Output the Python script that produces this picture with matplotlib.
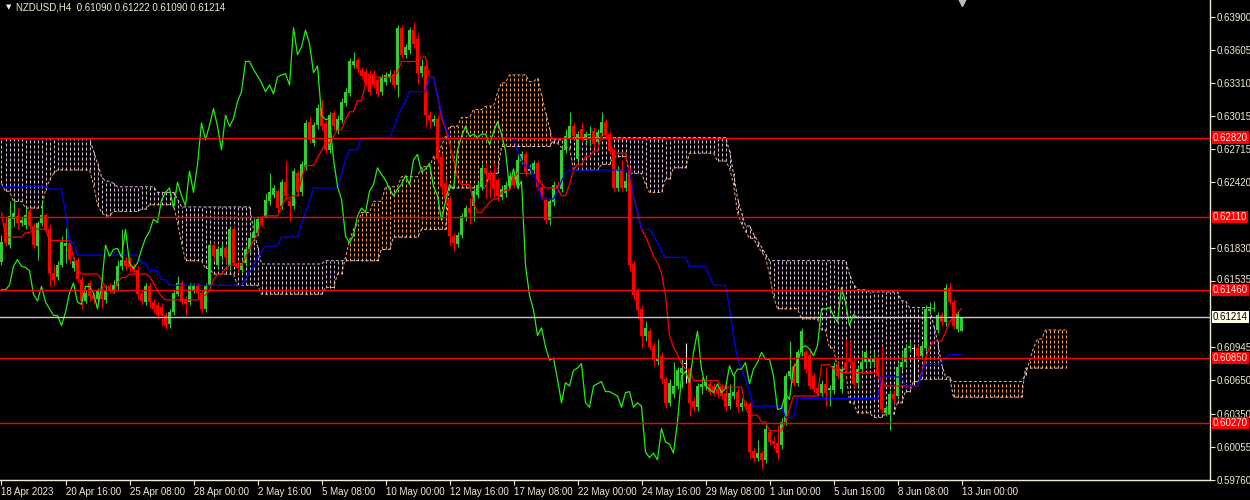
import numpy as np
import matplotlib
matplotlib.use("Agg")
import matplotlib.pyplot as plt
import matplotlib.transforms as mtransforms

plt.rcParams["font.family"] = ["Liberation Sans", "DejaVu Sans"]

# ---- H4 candles, 18 Apr 00:00 .. 13 Jun 00:00 (241 bars) ----
opens = [
    .6171, .6206, .6186, .6209, .6212, .6206, .6204, .6216, .6203, .6185,
    .6206, .6213, .6200, .6161, .6157, .6168, .6185, .6188, .6165, .6173,
    .6155, .6136, .6152, .6141, .6138, .6146, .6137, .6149, .6146, .6149,
    .6167, .6173, .6172, .6167, .6164, .6143, .6135, .6149, .6135, .6132,
    .6131, .6123, .6115, .6126, .6142, .6152, .6138, .6135, .6146, .6149,
    .6143, .6129, .6149, .6186, .6168, .6176, .6183, .6167, .6200, .6170,
    .6164, .6170, .6182, .6192, .6197, .6210, .6212, .6225, .6231, .6234,
    .6221, .6242, .6225, .6221, .6250, .6233, .6256, .6296, .6277, .6293,
    .6308, .6295, .6271, .6304, .6288, .6298, .6313, .6322, .6347, .6351,
    .6342, .6341, .6339, .6339, .6333, .6323, .6332, .6335, .6339, .6329,
    .6380, .6356, .6360, .6378, .6370, .6340, .6346, .6302, .6296, .6299,
    .6265, .6241, .6227, .6194, .6187, .6195, .6210, .6219, .6221, .6231,
    .6238, .6255, .6250, .6250, .6244, .6229, .6232, .6239, .6248, .6240,
    .6261, .6267, .6252, .6253, .6259, .6238, .6226, .6208, .6224, .6240,
    .6236, .6271, .6282, .6292, .6263, .6290, .6280, .6284, .6288, .6278,
    .6286, .6296, .6285, .6270, .6237, .6254, .6237, .6253, .6169, .6145,
    .6129, .6105, .6109, .6096, .6082, .6087, .6066, .6045, .6053, .6060,
    .6072, .6080, .6074, .6047, .6041, .6059, .6060, .6062, .6060, .6057,
    .6059, .6054, .6042, .6051, .6055, .6041, .6044, .6044, .6002, .5996,
    .6000, .5994, .6019, .6011, .6009, .6007, .6028, .6069, .6078, .6063,
    .6090, .6090, .6088, .6069, .6058, .6054, .6062, .6056, .6056, .6078,
    .6057, .6081, .6085, .6081, .6063, .6075, .6081, .6081, .6081, .6084,
    .6066, .6036, .6035, .6053, .6051, .6077, .6081, .6094, .6093, .6094,
    .6087, .6094, .6127, .6129, .6110, .6123, .6117, .6148, .6135, .6111, .6109,
]
closes = [
    .6189, .6188, .6212, .6215, .6206, .6208, .6213, .6203, .6186, .6206,
    .6213, .6200, .6161, .6155, .6168, .6189, .6188, .6173, .6172, .6156,
    .6136, .6143, .6140, .6138, .6145, .6138, .6146, .6146, .6150, .6167,
    .6173, .6167, .6166, .6163, .6142, .6136, .6149, .6135, .6129, .6123,
    .6123, .6114, .6126, .6143, .6152, .6135, .6133, .6149, .6149, .6143,
    .6129, .6149, .6186, .6176, .6182, .6183, .6175, .6200, .6170, .6165,
    .6170, .6182, .6192, .6198, .6209, .6206, .6226, .6233, .6237, .6219,
    .6242, .6230, .6221, .6252, .6233, .6258, .6295, .6280, .6293, .6308,
    .6292, .6271, .6302, .6292, .6299, .6314, .6323, .6350, .6350, .6343,
    .6337, .6331, .6323, .6329, .6321, .6336, .6338, .6339, .6329, .6380,
    .6356, .6363, .6378, .6366, .6340, .6346, .6302, .6298, .6299, .6263,
    .6238, .6227, .6194, .6188, .6195, .6212, .6219, .6215, .6234, .6240,
    .6255, .6249, .6244, .6236, .6230, .6236, .6240, .6248, .6240, .6262,
    .6267, .6251, .6254, .6259, .6238, .6230, .6208, .6225, .6240, .6236,
    .6271, .6283, .6292, .6283, .6285, .6282, .6285, .6285, .6276, .6287,
    .6296, .6285, .6270, .6237, .6254, .6237, .6243, .6168, .6141, .6128,
    .6105, .6112, .6095, .6083, .6085, .6066, .6045, .6063, .6060, .6074,
    .6076, .6080, .6045, .6041, .6060, .6062, .6064, .6055, .6055, .6053,
    .6051, .6041, .6054, .6055, .6041, .6045, .6042, .6001, .5996, .6000,
    .5994, .6022, .6010, .6008, .6000, .6028, .6069, .6073, .6063, .6090,
    .6109, .6075, .6060, .6057, .6054, .6062, .6054, .6058, .6078, .6069,
    .6075, .6075, .6081, .6062, .6075, .6081, .6090, .6084, .6084, .6069,
    .6039, .6040, .6053, .6048, .6077, .6081, .6094, .6096, .6093, .6087,
    .6096, .6129, .6129, .6130, .6123, .6117, .6148, .6135, .6114, .6124, .6121,
]
highs = [
    .6195, .6212, .6225, .6225, .6219, .6212, .6219, .6219, .6206, .6207,
    .6225, .6215, .6205, .6168, .6172, .6194, .6201, .6190, .6175, .6175,
    .6158, .6146, .6155, .6143, .6148, .6150, .6150, .6152, .6155, .6173,
    .6200, .6176, .6175, .6170, .6167, .6146, .6152, .6152, .6138, .6135,
    .6134, .6126, .6129, .6146, .6158, .6155, .6140, .6152, .6152, .6152,
    .6146, .6152, .6189, .6189, .6185, .6188, .6186, .6203, .6203, .6173,
    .6173, .6185, .6195, .6210, .6212, .6213, .6232, .6250, .6240, .6236,
    .6245, .6261, .6228, .6255, .6253, .6261, .6298, .6300, .6296, .6312,
    .6316, .6298, .6305, .6307, .6302, .6317, .6326, .6353, .6358, .6354,
    .6345, .6344, .6342, .6342, .6336, .6339, .6341, .6342, .6342, .6383,
    .6383, .6366, .6381, .6385, .6375, .6352, .6349, .6306, .6302, .6302,
    .6268, .6244, .6230, .6197, .6198, .6215, .6222, .6228, .6237, .6243,
    .6258, .6258, .6253, .6259, .6247, .6240, .6243, .6251, .6251, .6268,
    .6270, .6270, .6258, .6262, .6262, .6241, .6229, .6228, .6243, .6243,
    .6274, .6290, .6305, .6295, .6288, .6296, .6288, .6292, .6291, .6290,
    .6305, .6299, .6288, .6273, .6257, .6262, .6251, .6256, .6172, .6148,
    .6132, .6118, .6112, .6099, .6102, .6090, .6069, .6066, .6081, .6077,
    .6084, .6098, .6077, .6050, .6063, .6068, .6070, .6065, .6063, .6060,
    .6062, .6065, .6062, .6070, .6058, .6049, .6047, .6046, .6005, .6012,
    .6003, .6025, .6022, .6015, .6025, .6031, .6072, .6100, .6081, .6093,
    .6112, .6093, .6091, .6072, .6061, .6065, .6077, .6061, .6081, .6081,
    .6078, .6102, .6100, .6084, .6078, .6090, .6093, .6087, .6090, .6087,
    .6096, .6043, .6056, .6056, .6080, .6090, .6097, .6100, .6096, .6097,
    .6099, .6132, .6135, .6136, .6126, .6126, .6151, .6152, .6138, .6127, .6122,
]
lows = [
    .6168, .6185, .6183, .6203, .6200, .6203, .6200, .6200, .6183, .6173,
    .6203, .6197, .6149, .6149, .6155, .6166, .6170, .6170, .6163, .6152,
    .6129, .6134, .6136, .6133, .6135, .6130, .6134, .6143, .6143, .6146,
    .6164, .6164, .6162, .6160, .6138, .6132, .6132, .6130, .6125, .6120,
    .6114, .6111, .6112, .6123, .6140, .6132, .6123, .6132, .6143, .6138,
    .6125, .6126, .6146, .6173, .6165, .6173, .6170, .6164, .6167, .6162,
    .6161, .6167, .6179, .6190, .6194, .6203, .6210, .6222, .6228, .6215,
    .6218, .6226, .6207, .6218, .6230, .6230, .6253, .6277, .6274, .6290,
    .6289, .6268, .6268, .6289, .6285, .6295, .6310, .6319, .6344, .6340,
    .6334, .6328, .6320, .6326, .6318, .6320, .6329, .6332, .6326, .6318,
    .6353, .6353, .6357, .6362, .6330, .6336, .6292, .6290, .6292, .6258,
    .6232, .6222, .6185, .6181, .6184, .6192, .6207, .6205, .6207, .6228,
    .6235, .6228, .6228, .6228, .6225, .6226, .6229, .6236, .6237, .6236,
    .6258, .6248, .6249, .6250, .6235, .6227, .6205, .6204, .6221, .6233,
    .6233, .6268, .6279, .6280, .6260, .6279, .6277, .6274, .6273, .6275,
    .6283, .6282, .6267, .6234, .6234, .6234, .6234, .6163, .6137, .6120,
    .6094, .6100, .6092, .6078, .6079, .6062, .6040, .6042, .6049, .6057,
    .6058, .6063, .6033, .6038, .6038, .6053, .6056, .6052, .6051, .6049,
    .6048, .6038, .6039, .6048, .6037, .6038, .6039, .5996, .5992, .5993,
    .5986, .5991, .6007, .6004, .5995, .6004, .6025, .6066, .6060, .6060,
    .6087, .6072, .6057, .6054, .6051, .6051, .6042, .6042, .6053, .6066,
    .6054, .6072, .6078, .6059, .6060, .6072, .6078, .6078, .6078, .6066,
    .6036, .6033, .6021, .6045, .6048, .6074, .6078, .6090, .6060, .6084,
    .6084, .6091, .6124, .6127, .6107, .6114, .6114, .6132, .6111, .6108, .6109,
]

# ---- Ichimoku lines, as (value, number of bars) runs ----
tenkan_runs = [
    (.6215, 1), (.6193, 5), (.6197, 2), (.6200, 4), (.6190, 6), (.6175, 1), (.6165, 1),
    (.6160, 5), (.6155, 1), (.6148, 2), (.6143, 1), (.6152, 1), (.6157, 2), (.6160, 5),
    (.6158, 1), (.6152, 1), (.6145, 1), (.6140, 1), (.6137, 9), (.6140, 1), (.6141, 1),
    (.6145, 1), (.6155, 1), (.6160, 2), (.6165, 1), (.6168, 4), (.6175, 1), (.6182, 1),
    (.6190, 1), (.6195, 1), (.6209, 1), (.6212, 4), (.6220, 1), (.6228, 2), (.6230, 2),
    (.6245, 1), (.6257, 3), (.6264, 1), (.6270, 1), (.6277, 2), (.6283, 1), (.6289, 2),
    (.6298, 1), (.6305, 2), (.6315, 2), (.6330, 1), (.6336, 7), (.6340, 1), (.6350, 5),
    (.6354, 2), (.6336, 2), (.6320, 1), (.6300, 1), (.6290, 1), (.6277, 1), (.6262, 1),
    (.6246, 1), (.6240, 3), (.6224, 1), (.6215, 2), (.6220, 1), (.6224, 1), (.6227, 2),
    (.6233, 1), (.6235, 2), (.6245, 1), (.6250, 6), (.6240, 1), (.6237, 4), (.6230, 2),
    (.6240, 1), (.6253, 1), (.6258, 2), (.6265, 2), (.6270, 2), (.6285, 2), (.6280, 1),
    (.6268, 4), (.6250, 1), (.6230, 1), (.6215, 1), (.6200, 1), (.6194, 1), (.6185, 1),
    (.6176, 1), (.6170, 1), (.6161, 1), (.6141, 1), (.6105, 1), (.6095, 1), (.6088, 1),
    (.6080, 1), (.6075, 2), (.6065, 7), (.6059, 6), (.6040, 1), (.6034, 3), (.6028, 2),
    (.6020, 4), (.6028, 1), (.6040, 1), (.6051, 7), (.6079, 3), (.6075, 2), (.6072, 10),
    (.6066, 1), (.6060, 9), (.6072, 1), (.6084, 1), (.6095, 1), (.6100, 3), (.6108, 1),
    (.6117, 1), (.6122, 1), (.6126, 1), (.6129, 1),
]
kijun_runs = [
    (.6238, 12), (.6236, 4), (.6215, 1), (.6188, 2), (.6177, 16), (.6170, 2), (.6163, 3),
    (.6155, 2), (.6150, 19), (.6155, 1), (.6162, 1), (.6166, 1), (.6175, 1), (.6180, 1),
    (.6185, 4), (.6193, 5), (.6205, 1), (.6215, 1), (.6225, 1), (.6237, 7), (.6250, 1),
    (.6262, 1), (.6271, 3), (.6282, 8), (.6290, 1), (.6300, 1), (.6308, 1), (.6315, 1),
    (.6323, 5), (.6336, 2), (.6318, 1), (.6305, 1), (.6292, 1), (.6282, 17), (.6270, 1),
    (.6262, 1), (.6256, 2), (.6248, 1), (.6242, 1), (.6227, 4), (.6235, 1), (.6243, 1),
    (.6250, 1), (.6253, 16), (.6230, 1), (.6215, 1), (.6200, 3), (.6195, 1), (.6188, 1),
    (.6180, 1), (.6175, 6), (.6167, 5), (.6158, 1), (.6150, 4), (.6130, 1), (.6105, 1),
    (.6084, 1), (.6075, 1), (.6066, 1), (.6055, 1), (.6042, 8), (.6032, 3), (.6049, 21),
    (.6068, 6), (.6060, 4), (.6070, 1), (.6080, 5), (.6085, 1), (.6088, 4),
]
# senkou spans run 26 bars past the last candle (267 bars)
span_a_runs = [
    (.6241, 1), (.6234, 2), (.6225, 3), (.6219, 5), (.6235, 1), (.6244, 1), (.6250, 1),
    (.6253, 9), (.6240, 1), (.6222, 1), (.6215, 1), (.6212, 2), (.6216, 7), (.6218, 2),
    (.6222, 7), (.6206, 1), (.6188, 1), (.6172, 5), (.6165, 2), (.6160, 6), (.6150, 6),
    (.6142, 16), (.6148, 3), (.6160, 2), (.6175, 1), (.6190, 1), (.6200, 1), (.6205, 1),
    (.6215, 3), (.6225, 3), (.6238, 4), (.6247, 5), (.6256, 3), (.6265, 2), (.6275, 1),
    (.6283, 1), (.6292, 3), (.6300, 3), (.6307, 3), (.6310, 3), (.6322, 1), (.6331, 2),
    (.6338, 5), (.6332, 2), (.6335, 1), (.6320, 1), (.6305, 1), (.6290, 1), (.6277, 2),
    (.6273, 3), (.6253, 7), (.6258, 3), (.6265, 4), (.6250, 4), (.6240, 1), (.6233, 4),
    (.6245, 2), (.6255, 4), (.6268, 7), (.6261, 3), (.6255, 1), (.6240, 1), (.6215, 1),
    (.6205, 1), (.6198, 1), (.6192, 2), (.6185, 1), (.6180, 1), (.6175, 1), (.6160, 1),
    (.6140, 1), (.6129, 6), (.6120, 5), (.6110, 2), (.6094, 2), (.6075, 3), (.6045, 2),
    (.6036, 4), (.6032, 3), (.6035, 3), (.6045, 2), (.6055, 2), (.6064, 2), (.6066, 6),
    (.6066, 2), (.6064, 18), (.6070, 1), (.6082, 1), (.6094, 1), (.6102, 2), (.6110, 6),
]
span_b_runs = [
    (.6281, 23), (.6270, 1), (.6259, 1), (.6247, 1), (.6243, 2), (.6241, 1), (.6238, 10),
    (.6233, 5), (.6227, 1), (.6220, 18), (.6200, 1), (.6185, 1), (.6169, 16), (.6172, 14),
    (.6182, 3), (.6193, 7), (.6200, 7), (.6237, 10), (.6250, 3), (.6274, 13), (.6280, 3),
    (.6282, 41), (.6270, 1), (.6250, 1), (.6228, 1), (.6215, 1), (.6203, 2), (.6196, 1),
    (.6190, 1), (.6184, 1), (.6178, 1), (.6172, 20), (.6160, 1), (.6151, 1), (.6146, 3),
    (.6144, 8), (.6136, 2), (.6130, 6), (.6115, 1), (.6100, 1), (.6080, 1), (.6068, 2),
    (.6050, 18), (.6076, 11),
]

level_prices = [0.62820, 0.62110, 0.61460, 0.60850, 0.60270]
last_price = 0.61214
# 0.62125 and 0.61240 sit under the level boxes on the original scale, so they are left out
ytick_vals = [0.63900, 0.63605, 0.63310, 0.63015, 0.62715, 0.62420, 0.61830,
              0.61535, 0.60945, 0.60650, 0.60350, 0.60055, 0.59760]
xtick_bars = list(range(0, 241, 16))
xtick_labels = ["18 Apr 2023", "20 Apr 16:00", "25 Apr 08:00", "28 Apr 00:00", "2 May 16:00",
                "5 May 08:00", "10 May 00:00", "12 May 16:00", "17 May 08:00", "22 May 00:00",
                "24 May 16:00", "29 May 08:00", "1 Jun 00:00", "5 Jun 16:00", "8 Jun 08:00",
                "13 Jun 00:00"]

BULL, BEAR, DOJI = "#32CD32", "#FF0000", "#F0F0F0"
SANDY, THISTLE = "#F4A460", "#D8BFD8"
FG = "#F2EBD3"


def expand(runs):
    return np.concatenate([np.full(n, v) for v, n in runs])


def main():
    o, c = np.array(opens), np.array(closes)
    h = np.maximum(np.array(highs), np.maximum(o, c))
    l = np.minimum(np.array(lows), np.minimum(o, c))
    x = np.arange(len(c))
    tenkan, kijun = expand(tenkan_runs), expand(kijun_runs)
    span_a, span_b = expand(span_a_runs), expand(span_b_runs)

    fig = plt.figure(figsize=(12.5, 5), dpi=100, facecolor="black")
    ax = fig.add_axes([0, 20 / 500, 1210 / 1250, 480 / 500])
    ax.set_facecolor("black")
    ax.set_xlim(-0.375, 302.125)
    ax.set_ylim(0.5976, 0.64049)

    # kumo hatch + span lines
    j = np.arange(len(span_a))
    hatch_cols = np.where(span_a > span_b, SANDY, THISTLE)
    ax.vlines(j, np.minimum(span_a, span_b), np.maximum(span_a, span_b), colors=hatch_cols,
              linestyles=(0, (3, 2)), linewidth=0.72, zorder=1)
    ax.plot(j, span_a, color=SANDY, ls=(0, (3, 2)), lw=0.72, zorder=1)
    ax.plot(j, span_b, color=THISTLE, ls=(0, (3, 2)), lw=0.72, zorder=1)

    # candles
    cols = np.where(c > o, BULL, np.where(c < o, BEAR, DOJI))
    ax.vlines(x, l, h, colors=cols, linewidth=0.8, zorder=3)
    ax.bar(x, np.maximum(np.abs(c - o), 0.00009), bottom=np.minimum(o, c), width=0.75,
           color=cols, linewidth=0, zorder=3)

    # ichimoku lines
    ax.plot(x, tenkan, color="#FF0000", lw=0.9, zorder=4)
    ax.plot(x, kijun, color="#0000FF", lw=0.9, zorder=4)
    ax.plot(x[:-26], c[26:], color="#22EE11", lw=0.9, zorder=4)

    # horizontal levels + price line
    for p in level_prices:
        ax.axhline(p, color="#FF0000", lw=1.0, zorder=5)
    ax.axhline(last_price, color="#C8C8C8", lw=1.0, zorder=5)

    # axes styling
    for side in ("top", "left"):
        ax.spines[side].set_visible(False)
    for side in ("right", "bottom"):
        ax.spines[side].set_color(FG)
        ax.spines[side].set_linewidth(1.0)
    ax.yaxis.tick_right()
    ax.set_yticks(ytick_vals)
    ax.set_yticklabels([f"{v:.5f}" for v in ytick_vals])
    ax.set_xticks(xtick_bars)
    ax.set_xticklabels(xtick_labels, ha="left")
    ax.tick_params(axis="y", colors=FG, labelcolor=FG, labelsize=7, length=3.5, width=0.8, pad=1.5)
    ax.tick_params(axis="x", colors=FG, labelcolor=FG, labelsize=7, length=3.5, width=0.8, pad=1.5)
    # nudge 0.61535 up a touch so it clears the 0.61460 box
    for lbl in ax.get_yticklabels():
        if lbl.get_text() == "0.61535":
            lbl.set_va("bottom")
            lbl.set_transform(lbl.get_transform()
                              + mtransforms.ScaledTranslation(0, -2.5 / 72, fig.dpi_scale_trans))

    # price labels on the right scale
    trans = mtransforms.blended_transform_factory(ax.transAxes, ax.transData)
    for p in level_prices:
        ax.text(1.0 + 3 / 1210, p, f"{p:.5f}", transform=trans, ha="left", va="center",
                fontsize=7, color="#FFE8E8", zorder=10, clip_on=False,
                bbox=dict(boxstyle="square,pad=0.12", fc="#FF0000", ec="none"))
    ax.text(1.0 + 3 / 1210, last_price, f"{last_price:.5f}", transform=trans, ha="left",
            va="center", fontsize=7, color="black", zorder=10, clip_on=False,
            bbox=dict(boxstyle="square,pad=0.12", fc="#FFFDE6", ec="none"))

    # header + shift marker
    ax.text(6 / 1210, 1 - 7 / 480, "\u25bc", transform=ax.transAxes, fontsize=5,
            color=FG, va="center", ha="left", family=["DejaVu Sans"])
    ax.text(16 / 1210, 1 - 7 / 480, "NZDUSD,H4  0.61090 0.61222 0.61090 0.61214",
            transform=ax.transAxes, fontsize=7, color=FG, va="center", ha="left")
    ax.plot([240], [0.64049], marker="v", ms=9, color="#BDBDBD", clip_on=False, zorder=10)

    fig.savefig("out.png", dpi=100, facecolor="black")


if __name__ == "__main__":
    main()
